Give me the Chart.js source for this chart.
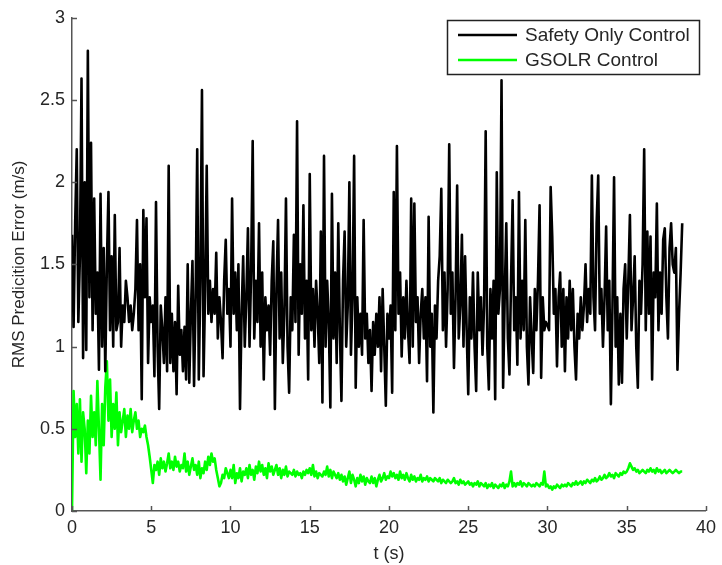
<!DOCTYPE html>
<html>
<head>
<meta charset="utf-8">
<script src="https://cdn.jsdelivr.net/npm/chart.js@4.4.1/dist/chart.umd.min.js"></script>
<style>
    html, body { margin: 0; padding: 0; background: #fff; }
    #wrap { width: 722px; height: 565px; }
</style>
</head>
<body>
<div id="wrap"><canvas id="rmsChart" width="722" height="565"></canvas></div>
<script>
// sampling step of both traces (s)
const dt = 0.1;

// Safety Only Control, RMS prediction error (m/s), t = 0 .. 38.5 s
const safetyRms = [
    1.68, 1.12, 1.75, 2.20, 1.15, 1.55, 2.63, 0.93, 2.00, 0.98,
    2.80, 1.30, 2.24, 1.10, 1.90, 1.20, 1.45, 0.86, 1.93, 1.00,
    1.60, 0.85, 1.50, 1.94, 1.10, 1.55, 1.00, 1.80, 1.10, 1.15,
    1.60, 1.00, 1.25, 1.15, 1.40, 1.30, 1.15, 1.25, 1.10, 1.20,
    1.35, 1.77, 1.10, 1.50, 0.68, 1.83, 1.30, 1.78, 0.90, 1.30,
    1.15, 1.25, 0.82, 1.88, 1.00, 0.62, 1.25, 1.10, 0.90, 1.30,
    0.85, 2.10, 0.90, 1.20, 0.85, 1.15, 0.71, 1.37, 0.95, 1.10,
    0.85, 1.12, 0.80, 1.50, 0.78, 1.20, 1.52, 0.76, 1.30, 2.20,
    0.80, 1.40, 2.56, 0.82, 1.35, 2.10, 1.20, 1.40, 1.15, 1.35,
    1.20, 1.57, 1.05, 1.30, 1.15, 0.93, 1.40, 1.65, 1.20, 1.35,
    1.00, 1.90, 1.20, 1.45, 1.10, 1.50, 0.62, 1.20, 1.55, 1.00,
    1.30, 1.72, 1.00, 1.45, 2.25, 1.05, 1.40, 1.15, 1.75, 1.00,
    1.45, 0.80, 1.30, 1.10, 1.25, 0.95, 1.40, 1.64, 0.62, 1.35,
    1.77, 1.05, 1.45, 0.90, 1.20, 1.90, 1.00, 0.72, 1.30, 1.10,
    1.68, 1.15, 2.37, 0.95, 1.50, 1.20, 1.86, 1.05, 1.40, 0.80,
    2.05, 1.10, 1.35, 1.00, 1.40, 1.20, 0.90, 1.70, 0.66, 2.16,
    1.00, 1.40, 1.15, 0.63, 1.93, 1.05, 1.45, 0.90, 1.75, 1.10,
    0.67, 1.40, 1.70, 1.00, 1.25, 2.00, 0.95, 1.30, 2.16, 0.75,
    1.30, 1.00, 1.20, 0.95, 1.77, 1.05, 1.20, 0.90, 1.10, 0.73,
    1.15, 0.95, 1.20, 1.00, 1.30, 0.85, 1.35, 1.00, 0.64, 1.20,
    1.05, 1.25, 0.72, 1.94, 1.10, 2.22, 1.20, 1.45, 0.94, 1.30,
    1.05, 1.40, 1.10, 0.90, 1.90, 1.00, 1.87, 1.15, 1.30, 0.90,
    1.20, 1.35, 1.05, 1.30, 0.79, 1.79, 1.00, 1.20, 0.60, 1.25,
    1.05, 1.40, 1.55, 1.96, 1.10, 1.45, 1.00, 1.35, 2.23, 1.20,
    1.45, 0.87, 1.30, 1.98, 1.05, 1.25, 1.68, 1.00, 1.55, 1.10,
    0.71, 1.30, 1.05, 1.45, 1.00, 0.73, 1.45, 1.10, 1.30, 0.95,
    1.25, 2.31, 1.00, 0.74, 1.35, 1.05, 1.40, 0.68, 2.06, 1.20,
    1.35, 2.62, 0.75, 1.30, 1.75, 1.05, 0.83, 1.40, 1.89, 1.10,
    1.30, 0.89, 1.94, 1.05, 1.40, 1.10, 1.77, 1.00, 0.77, 1.30,
    1.05, 0.84, 1.35, 1.10, 1.40, 1.86, 0.81, 1.30, 1.10, 1.15,
    1.13, 1.10, 1.97, 1.67, 1.20, 1.35, 0.88, 1.30, 1.45, 1.00,
    1.35, 0.85, 1.30, 1.05, 1.40, 1.10, 1.35, 1.00, 0.80, 1.20,
    1.05, 1.30, 1.10, 1.25, 1.50, 1.15, 1.35, 1.20, 2.04, 1.30,
    1.10, 1.75, 2.04, 1.20, 1.35, 1.00, 1.30, 1.73, 1.10, 1.40,
    0.65, 1.25, 2.03, 1.00, 1.30, 0.77, 1.20, 0.78, 1.35, 1.50,
    1.05, 1.40, 1.80, 1.10, 1.30, 1.55, 1.00, 0.75, 1.40, 1.20,
    1.50, 2.20, 1.10, 1.70, 1.20, 1.67, 0.80, 1.45, 1.30, 1.87,
    1.10, 1.45, 1.20, 1.65, 1.72, 1.30, 1.05, 1.60, 1.75, 1.50,
    1.45, 1.60, 0.86, 1.20, 1.45, 1.75
];

// GSOLR Control, RMS prediction error (m/s), t = 0 .. 38.5 s
const gsolrRms = [
    0.00, 0.73, 0.45, 0.65, 0.35, 0.68, 0.30, 0.60, 0.50, 0.23,
    0.55, 0.35, 0.70, 0.45, 0.60, 0.40, 0.79, 0.50, 0.19, 0.65,
    0.40, 0.75, 0.91, 0.55, 0.80, 0.45, 0.65, 0.50, 0.72, 0.40,
    0.60, 0.48, 0.55, 0.62, 0.45, 0.58, 0.50, 0.62, 0.48, 0.55,
    0.60, 0.50, 0.55, 0.45, 0.50, 0.48, 0.52, 0.45, 0.40, 0.33,
    0.25, 0.17, 0.28, 0.25, 0.30, 0.22, 0.32, 0.26, 0.30, 0.24,
    0.29, 0.35, 0.26, 0.30, 0.25, 0.33, 0.27, 0.30, 0.24, 0.28,
    0.26, 0.35, 0.24, 0.30, 0.22, 0.27, 0.32, 0.25, 0.28, 0.22,
    0.30, 0.20, 0.26, 0.23, 0.30, 0.25, 0.33, 0.28, 0.35, 0.30,
    0.32, 0.25, 0.20, 0.15, 0.17, 0.22, 0.20, 0.26, 0.23, 0.20,
    0.25, 0.20, 0.28, 0.17, 0.23, 0.20, 0.26, 0.18, 0.24, 0.22,
    0.26, 0.20, 0.28, 0.22, 0.25, 0.19, 0.27, 0.23, 0.30, 0.24,
    0.28, 0.22, 0.26, 0.20, 0.29, 0.24, 0.27, 0.22, 0.25, 0.28,
    0.22, 0.26, 0.20, 0.25, 0.22, 0.27, 0.21, 0.24, 0.23, 0.22,
    0.25, 0.21, 0.24, 0.22, 0.23, 0.20, 0.24, 0.22, 0.25, 0.23,
    0.26, 0.22, 0.28, 0.21, 0.24, 0.20, 0.23, 0.22, 0.21, 0.24,
    0.22, 0.27, 0.21, 0.25, 0.20, 0.24, 0.22, 0.20, 0.23, 0.19,
    0.22, 0.18, 0.21, 0.16, 0.20, 0.24, 0.17, 0.22, 0.19, 0.15,
    0.20, 0.17, 0.22, 0.18, 0.21, 0.16, 0.20, 0.18, 0.17, 0.21,
    0.17, 0.20, 0.15, 0.19, 0.22, 0.18, 0.20, 0.23, 0.19, 0.21,
    0.20, 0.24, 0.21, 0.23, 0.20, 0.22, 0.19, 0.24, 0.20, 0.22,
    0.19, 0.23, 0.20, 0.18, 0.22, 0.19, 0.21, 0.18, 0.20, 0.19,
    0.22, 0.18, 0.20, 0.19, 0.21, 0.18, 0.20, 0.19, 0.18, 0.20,
    0.19, 0.18, 0.20, 0.17, 0.19, 0.18, 0.17, 0.19, 0.18, 0.17,
    0.18, 0.20, 0.17, 0.18, 0.16, 0.19, 0.17, 0.18, 0.16, 0.17,
    0.18, 0.16, 0.17, 0.15, 0.17, 0.16, 0.18, 0.15, 0.17, 0.16,
    0.15, 0.17, 0.14, 0.16, 0.15, 0.17, 0.14, 0.16, 0.15, 0.14,
    0.16, 0.15, 0.17, 0.14, 0.16, 0.15, 0.18, 0.24, 0.15, 0.17,
    0.15, 0.17, 0.16, 0.18, 0.15, 0.17, 0.16, 0.15, 0.17, 0.16,
    0.15, 0.16, 0.15, 0.17, 0.16, 0.15, 0.17, 0.16, 0.24, 0.15,
    0.16, 0.14, 0.15, 0.13, 0.15, 0.14, 0.16, 0.15, 0.14, 0.16,
    0.15, 0.16, 0.15, 0.17, 0.16, 0.15, 0.17, 0.16, 0.18, 0.16,
    0.17, 0.18, 0.16, 0.18, 0.17, 0.19, 0.18, 0.17, 0.19, 0.18,
    0.20, 0.18, 0.19, 0.21, 0.19, 0.20, 0.22, 0.20, 0.21, 0.23,
    0.21, 0.22, 0.20, 0.23, 0.22, 0.21, 0.23, 0.22, 0.24, 0.23,
    0.24, 0.26, 0.29, 0.27, 0.25, 0.26, 0.24, 0.25, 0.23, 0.24,
    0.25, 0.24, 0.23, 0.25, 0.24, 0.26, 0.24, 0.25, 0.23, 0.26,
    0.24, 0.25, 0.23, 0.24, 0.25, 0.23, 0.24, 0.25, 0.24, 0.23,
    0.24, 0.25, 0.24, 0.23, 0.24, 0.24
];

const seriesNames = ['Safety Only Control', 'GSOLR Control'];
const seriesColors = ['#000000', '#00ff00'];
const xTicks = [0, 5, 10, 15, 20, 25, 30, 35, 40];
const yTicks = [0, 0.5, 1, 1.5, 2, 2.5, 3];

const FONT = "Helvetica, Arial, 'Liberation Sans', sans-serif";
const TEXT = '#262626';
const AXIS = '#555555';

function toPoints(values) {
    return values.map((v, i) => ({ x: +(i * dt).toFixed(1), y: v }));
}

// inward tick marks, like the original figure
const inwardTicks = {
    id: 'inwardTicks',
    afterDatasetsDraw(chart) {
        const { ctx, chartArea, scales } = chart;
        ctx.save();
        ctx.strokeStyle = AXIS;
        ctx.lineWidth = 1.5;
        xTicks.forEach(v => {
            const px = Math.round(scales.x.getPixelForValue(v)) + 0.5;
            ctx.beginPath();
            ctx.moveTo(px, chartArea.bottom);
            ctx.lineTo(px, chartArea.bottom - 5);
            ctx.stroke();
        });
        yTicks.forEach(v => {
            const py = Math.round(scales.y.getPixelForValue(v)) + 0.5;
            ctx.beginPath();
            ctx.moveTo(chartArea.left, py);
            ctx.lineTo(chartArea.left + 5, py);
            ctx.stroke();
        });
        ctx.restore();
    }
};

// boxed legend in the top right corner, drawn over the traces
const boxLegend = {
    id: 'boxLegend',
    afterDatasetsDraw(chart) {
        const ctx = chart.ctx;
        const box = { x: 447, y: 20, w: 252, h: 54 };
        ctx.save();
        ctx.fillStyle = '#ffffff';
        ctx.fillRect(box.x, box.y, box.w, box.h);
        ctx.strokeStyle = '#222222';
        ctx.lineWidth = 1.5;
        ctx.strokeRect(box.x + 0.5, box.y + 0.5, box.w, box.h);
        ctx.font = '19px ' + FONT;
        ctx.textBaseline = 'middle';
        seriesNames.forEach((name, i) => {
            const y = box.y + 15 + i * 25;
            ctx.strokeStyle = seriesColors[i];
            ctx.lineWidth = 2.5;
            ctx.beginPath();
            ctx.moveTo(box.x + 11, y);
            ctx.lineTo(box.x + 70, y);
            ctx.stroke();
            ctx.fillStyle = TEXT;
            ctx.fillText(name, box.x + 78, y + 1);
        });
        ctx.restore();
    }
};

document.addEventListener('DOMContentLoaded', function () {
    const ctx = document.getElementById('rmsChart').getContext('2d');
    new Chart(ctx, {
        type: 'line',
        data: {
            datasets: [{
                label: seriesNames[0],
                data: toPoints(safetyRms),
                borderColor: seriesColors[0],
                borderWidth: 2.6,
                borderJoinStyle: 'round',
                pointRadius: 0,
                tension: 0,
                fill: false
            }, {
                label: seriesNames[1],
                data: toPoints(gsolrRms),
                borderColor: seriesColors[1],
                borderWidth: 2.6,
                borderJoinStyle: 'round',
                pointRadius: 0,
                tension: 0,
                fill: false
            }]
        },
        options: {
            responsive: false,
            animation: false,
            layout: { padding: { top: 11, right: 14, left: 0, bottom: 0 } },
            plugins: {
                legend: { display: false },
                tooltip: { enabled: false }
            },
            scales: {
                x: {
                    type: 'linear',
                    min: 0,
                    max: 40,
                    afterBuildTicks: scale => { scale.ticks = xTicks.map(v => ({ value: v })); },
                    afterFit: scale => { scale.height = 54; },
                    grid: { display: false, drawTicks: false },
                    border: { display: true, color: AXIS, width: 1.5 },
                    ticks: {
                        color: TEXT,
                        font: { family: FONT, size: 18 },
                        padding: 6,
                        maxRotation: 0,
                        callback: v => String(v)
                    },
                    title: {
                        display: true,
                        text: 't (s)',
                        color: TEXT,
                        font: { family: FONT, size: 18 },
                        padding: { top: 1, bottom: 0 }
                    }
                },
                y: {
                    min: 0,
                    max: 3,
                    afterBuildTicks: scale => { scale.ticks = yTicks.map(v => ({ value: v })); },
                    afterFit: scale => { scale.width = 72; },
                    grid: { display: false, drawTicks: false },
                    border: { display: true, color: AXIS, width: 1.5 },
                    ticks: {
                        color: TEXT,
                        font: { family: FONT, size: 18 },
                        padding: 7,
                        callback: v => String(v)
                    },
                    title: {
                        display: true,
                        text: 'RMS Predicition Error (m/s)',
                        color: TEXT,
                        font: { family: FONT, size: 17 },
                        padding: { top: 9, bottom: 0 }
                    }
                }
            }
        },
        plugins: [inwardTicks, boxLegend]
    });
});
</script>
</body>
</html>
